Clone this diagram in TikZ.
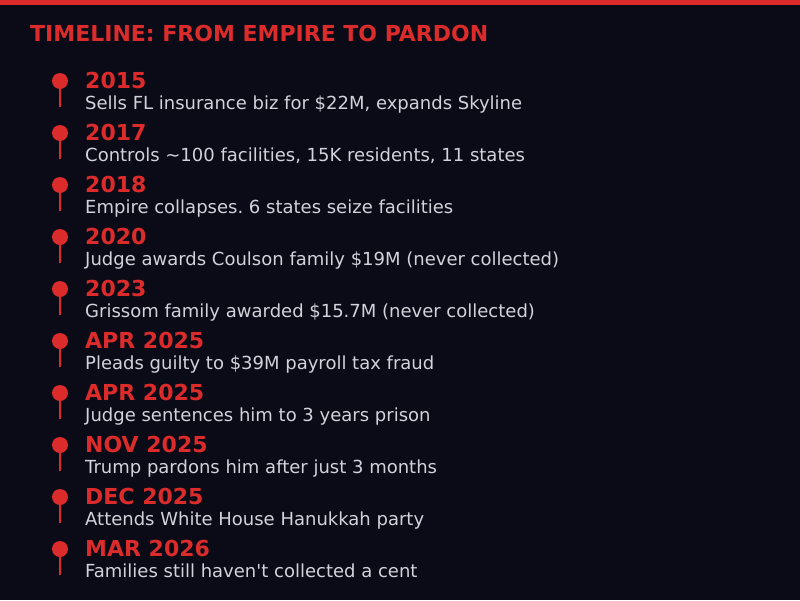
\documentclass[tikz,border=0pt]{standalone}
\usepackage{fontspec}
\setmainfont{DejaVu Sans}
\usepackage{xcolor}
\usepackage{tikz}
\frenchspacing
\definecolor{bg}{HTML}{0B0B18}
\definecolor{accent}{HTML}{DC2B2B}
\definecolor{muted}{HTML}{D2D2DA}
\tikzset{
  dot/.style={circle, fill=accent, inner sep=0pt, minimum size=16pt},
  stem/.style={draw=accent, line width=2pt},
  yearlab/.style={text=accent, font=\fontsize{22}{26}\selectfont\bfseries, anchor=base west, inner sep=0pt},
  desclab/.style={text=muted, font=\fontsize{18}{22}\selectfont, anchor=base west, inner sep=0pt},
  titlelab/.style={text=accent, font=\fontsize{22}{26}\selectfont\bfseries, anchor=base west, inner sep=0pt},
}

\begin{document}
\begin{tikzpicture}[x=1pt,y=-1pt]
  \fill[bg] (0,0) rectangle (800,600);
  \useasboundingbox (0,0) rectangle (800,600);
  \fill[accent] (0,0) rectangle (800,5);
  \node[titlelab] (title) at (30,41) {TIMELINE: FROM EMPIRE TO PARDON};

  \foreach \yr/\txt [count=\i from 0] in {
    2015/{Sells FL insurance biz for \$22M, expands Skyline},
    2017/{Controls \textasciitilde100 facilities, 15K residents, 11 states},
    2018/{Empire collapses. 6 states seize facilities},
    2020/{Judge awards Coulson family \$19M (never collected)},
    2023/{Grissom family awarded \$15.7M (never collected)},
    APR 2025/{Pleads guilty to \$39M payroll tax fraud},
    APR 2025/{Judge sentences him to 3 years prison},
    NOV 2025/{Trump pardons him after just 3 months},
    DEC 2025/{Attends White House Hanukkah party},
    MAR 2026/{Families still haven\textquotesingle t collected a cent}} {
    \pgfmathsetmacro{\ty}{81+52*\i}
    \node[dot] (dot\i) at (60,\ty) {};
    \coordinate (tail\i) at (60,\ty+26);
    \draw[stem] (dot\i) -- (tail\i);
    \node[yearlab] (year\i) at (85,\ty+7.3) {\yr};
    \node[desclab] (desc\i) at (85,\ty+28.3) {\txt};
  }
\end{tikzpicture}
\end{document}
